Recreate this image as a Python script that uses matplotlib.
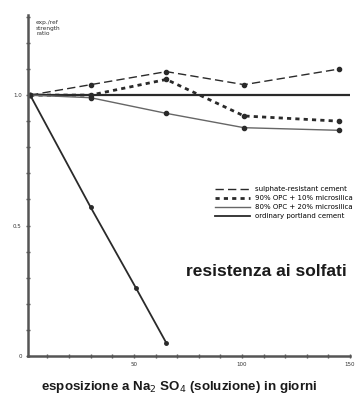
import matplotlib
matplotlib.use("Agg")
import matplotlib.pyplot as plt

# Data (days of exposure vs. strength ratio)
days_src = [2, 30, 65, 101, 145]
src = [1.0, 1.04, 1.09, 1.04, 1.10]          # sulphate-resistant cement
days_ms10 = [2, 30, 65, 101, 145]
ms10 = [1.0, 1.0, 1.06, 0.92, 0.90]          # 90% OPC + 10% microsilica
days_ms20 = [2, 30, 65, 101, 145]
ms20 = [1.0, 0.99, 0.93, 0.875, 0.865]       # 80% OPC + 20% microsilica
days_opc = [2, 30, 51, 65]
opc = [1.0, 0.57, 0.26, 0.05]                # ordinary portland cement
ref_x = [2, 150]
ref_y = [1.0, 1.0]

labels = ["sulphate-resistant cement", "90% OPC + 10% microsilica",
          "80% OPC + 20% microsilica", "ordinary portland cement"]
xticks = [50, 100, 150]
xtick_labels = ["50", "100", "150"]
yticks = [0, 0.5, 1.0]
ytick_labels = ["0", "0.5", "1.0"]

W, H = 358, 397
fig = plt.figure(figsize=(W / 100, H / 100), dpi=100)
fig.patch.set_facecolor("white")
ax = fig.add_axes([28 / W, (H - 356) / H, (350 - 28) / W, (356 - 15) / H])
ax.set_xlim(1, 150)
ax.set_ylim(0, 1.307)

c = "#2a2a2a"
ax.plot(ref_x, ref_y, color=c, lw=1.6, zorder=2)
l1, = ax.plot(days_src, src, color=c, lw=1.0, ls=(0, (6, 3)), marker="o", ms=3, label=labels[0])
l2, = ax.plot(days_ms10, ms10, color=c, lw=2.0, ls=(0, (1.5, 1.5)), marker="o", ms=3, label=labels[1])
l3, = ax.plot(days_ms20, ms20, color="#666666", lw=1.0, marker="o", ms=3, mfc=c, mec=c, label=labels[2])
l4, = ax.plot(days_opc, opc, color=c, lw=1.3, marker="o", ms=2.5, label=labels[3])

for s in ["top", "right"]:
    ax.spines[s].set_visible(False)
for s in ["left", "bottom"]:
    ax.spines[s].set_color("#555555")
    ax.spines[s].set_linewidth(1.8)

ax.set_xticks(xticks)
ax.set_xticklabels(xtick_labels)
ax.set_xticks(range(10, 151, 10), minor=True)
ax.set_yticks(yticks)
ax.set_yticklabels(ytick_labels)
ax.set_yticks([i / 10 for i in range(1, 14)], minor=True)
ax.tick_params(axis="both", which="both", direction="inout", length=3, width=1,
               color="#555555", labelsize=4, pad=3, labelcolor="#333333")

ax.text(0.025, 0.985, "exp./ref\nstrength\nratio", transform=ax.transAxes,
        fontsize=4.2, va="top", ha="left", color="#333333", linespacing=1.1)

leg = ax.legend(handles=[l1, l2, l3, l4], loc="upper left",
                bbox_to_anchor=((215 - 28) / 322, (356 - 186) / 341),
                fontsize=5.0, frameon=False, handlelength=5.0, handletextpad=0.7,
                labelspacing=0.45, borderpad=0, borderaxespad=0)
for h in leg.legend_handles:
    h.set_marker("")

fig.text(266 / W, 1 - 272 / H, "resistenza ai solfati", ha="center", va="center",
         fontsize=12.5, fontweight="bold", family=["Liberation Sans", "DejaVu Sans"],
         color="#1a1a1a")
fig.text(179 / W, 1 - 387 / H, "esposizione a Na$_2$ SO$_4$ (soluzione) in giorni",
         ha="center", va="center", fontsize=9.6, fontweight="bold",
         family=["Liberation Sans", "DejaVu Sans"], color="#1a1a1a")

fig.savefig("out.png", dpi=100, facecolor="white")
